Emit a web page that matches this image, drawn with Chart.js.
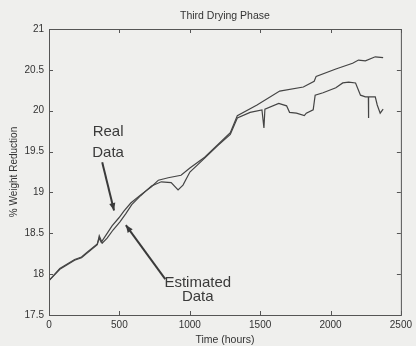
<!DOCTYPE html>
<html>
<head>
<meta charset="utf-8">
<script src="https://cdn.jsdelivr.net/npm/chart.js@4.4.1/dist/chart.umd.min.js"></script>
<style>
  html, body { margin: 0; padding: 0; background: #efefed; }
  #wrap { width: 416px; height: 346px; }
</style>
</head>
<body>
<div id="wrap"><canvas id="myChart" width="416" height="346"></canvas></div>
<script>
// time in hours, % weight reduction
const estTime = [0, 77, 182, 231, 273, 343, 357, 371, 406, 448, 497, 532, 581, 651, 728, 777, 847, 938, 1001, 1106, 1197, 1288, 1338, 1478, 1639, 1807, 1884, 1898, 2038, 2157, 2199, 2248, 2318, 2374];
const estValue = [17.92, 18.07, 18.18, 18.21, 18.27, 18.37, 18.44, 18.39, 18.48, 18.59, 18.69, 18.77, 18.87, 18.97, 19.07, 19.15, 19.18, 19.21, 19.30, 19.43, 19.58, 19.73, 19.94, 20.07, 20.24, 20.29, 20.36, 20.42, 20.51, 20.58, 20.62, 20.61, 20.66, 20.65];

const realTime = [0, 77, 182, 231, 273, 343, 357, 378, 413, 455, 504, 546, 588, 651, 728, 798, 868, 917, 952, 1001, 1106, 1197, 1288, 1338, 1429, 1513, 1527, 1534, 1632, 1688, 1709, 1758, 1814, 1828, 1877, 1891, 1947, 2038, 2087, 2129, 2178, 2213, 2248, 2269, 2270, 2271, 2318, 2332, 2353, 2374];
const realValue = [17.92, 18.06, 18.17, 18.20, 18.26, 18.36, 18.47, 18.38, 18.44, 18.54, 18.64, 18.74, 18.85, 18.96, 19.08, 19.13, 19.12, 19.03, 19.09, 19.25, 19.42, 19.57, 19.71, 19.91, 19.98, 20.01, 19.79, 20.02, 20.09, 20.06, 19.98, 19.97, 19.94, 19.97, 20.01, 20.19, 20.22, 20.28, 20.34, 20.35, 20.34, 20.19, 20.17, 20.17, 19.91, 20.17, 20.17, 20.07, 19.97, 20.02];

const xTicks = [0, 500, 1000, 1500, 2000, 2500];
const yTicks = [17.5, 18, 18.5, 19, 19.5, 20, 20.5, 21];

const titleText = "Third Drying Phase";
const xTitle = "Time (hours)";
const yTitle = "% Weight Reduction";

// annotation labels and arrows, in data units
const notes = [
  { lines: ["Real", "Data"], x: 420, y: [19.74, 19.48], from: [378, 19.37], to: [462, 18.78] },
  { lines: ["Estimated", "Data"], x: 1057, y: [17.89, 17.72], from: [826, 17.94], to: [546, 18.60] }
];

const ink = "#444";
const fontFam = "'Liberation Sans', Arial, sans-serif";

function toPts(xs, ys) {
  return xs.map((x, i) => ({ x: x, y: ys[i] }));
}

const framePlugin = {
  id: "frame",
  afterDraw(chart) {
    const ctx = chart.ctx;
    const a = chart.chartArea;
    const xs = chart.scales.x, ys = chart.scales.y;
    ctx.save();
    ctx.strokeStyle = "#555";
    ctx.lineWidth = 1;
    ctx.strokeRect(a.left + 0.5, a.top + 0.5, a.right - a.left, a.bottom - a.top);
    const len = 4;
    ctx.beginPath();
    xTicks.forEach(v => {
      const px = Math.round(xs.getPixelForValue(v)) + 0.5;
      ctx.moveTo(px, a.bottom); ctx.lineTo(px, a.bottom - len);
      ctx.moveTo(px, a.top); ctx.lineTo(px, a.top + len);
    });
    yTicks.forEach(v => {
      const py = Math.round(ys.getPixelForValue(v)) + 0.5;
      ctx.moveTo(a.left, py); ctx.lineTo(a.left + len, py);
      ctx.moveTo(a.right, py); ctx.lineTo(a.right - len, py);
    });
    ctx.stroke();

    // title
    ctx.fillStyle = "#333";
    ctx.font = "10.5px " + fontFam;
    ctx.textAlign = "center";
    ctx.textBaseline = "middle";
    ctx.fillText(titleText, (a.left + a.right) / 2, 16);

    // annotations
    ctx.font = "15px " + fontFam;
    ctx.fillStyle = "#3a3a3a";
    notes.forEach(n => {
      n.lines.forEach((t, i) => {
        ctx.fillText(t, xs.getPixelForValue(n.x), ys.getPixelForValue(n.y[i]));
      });
      const x1 = xs.getPixelForValue(n.from[0]), y1 = ys.getPixelForValue(n.from[1]);
      const x2 = xs.getPixelForValue(n.to[0]), y2 = ys.getPixelForValue(n.to[1]);
      ctx.strokeStyle = "#3a3a3a";
      ctx.lineWidth = 2;
      ctx.beginPath();
      ctx.moveTo(x1, y1); ctx.lineTo(x2, y2);
      ctx.stroke();
      const ang = Math.atan2(y2 - y1, x2 - x1);
      const h = 8;
      ctx.beginPath();
      ctx.moveTo(x2, y2);
      ctx.lineTo(x2 - h * Math.cos(ang - 0.4), y2 - h * Math.sin(ang - 0.4));
      ctx.lineTo(x2 - h * Math.cos(ang + 0.4), y2 - h * Math.sin(ang + 0.4));
      ctx.closePath();
      ctx.fill();
    });
    ctx.restore();
  }
};

new Chart(document.getElementById("myChart").getContext("2d"), {
  type: "scatter",
  data: {
    datasets: [
      { label: "Estimated Data", data: toPts(estTime, estValue), showLine: true, borderColor: ink, borderWidth: 1.2, pointRadius: 0, tension: 0 },
      { label: "Real Data", data: toPts(realTime, realValue), showLine: true, borderColor: ink, borderWidth: 1.2, pointRadius: 0, tension: 0 }
    ]
  },
  options: {
    responsive: false,
    animation: false,
    layout: { padding: { top: 29, right: 10, left: 0, bottom: 0 } },
    plugins: { legend: { display: false }, tooltip: { enabled: false } },
    scales: {
      x: {
        type: "linear", min: 0, max: 2500,
        afterBuildTicks: s => { s.ticks = xTicks.map(v => ({ value: v })); },
        afterFit: s => { s.height = 31; },
        grid: { display: false, drawTicks: false },
        border: { display: false },
        ticks: { color: "#333", font: { size: 10, family: fontFam }, padding: 4, maxRotation: 0, callback: v => String(v) },
        title: { display: true, text: xTitle, color: "#333", font: { size: 10.5, family: fontFam }, padding: { top: 0, bottom: 0 } }
      },
      y: {
        type: "linear", min: 17.5, max: 21,
        afterBuildTicks: s => { s.ticks = yTicks.map(v => ({ value: v })); },
        afterFit: s => { s.width = 49; },
        grid: { display: false, drawTicks: false },
        border: { display: false },
        ticks: { color: "#333", font: { size: 10, family: fontFam }, padding: 5, callback: v => String(v) },
        title: { display: true, text: yTitle, color: "#333", font: { size: 10, family: fontFam }, padding: { top: 8, bottom: 0 } }
      }
    }
  },
  plugins: [framePlugin]
});
</script>
</body>
</html>
